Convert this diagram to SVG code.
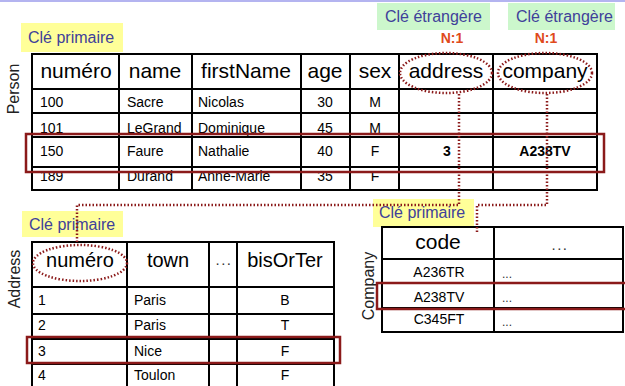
<svg xmlns="http://www.w3.org/2000/svg" width="625" height="386" viewBox="0 0 625 386">
<style>
text{font-family:"Liberation Sans",Arial,sans-serif;fill:#000}
.grid{stroke:#000;stroke-width:2;fill:none}
.hd{font-size:21px;text-anchor:middle}
.hd2{font-size:20px;text-anchor:middle}
.d{font-size:14px}
.dc{font-size:14px;text-anchor:middle}
.b{font-weight:bold}
.sd{font-size:12px;fill:#333}
.hdots{font-size:15px;text-anchor:middle;letter-spacing:1.5px;fill:#333}
.key{font-size:16px;fill:#40409a}
.yel{fill:#ffff99}
.grn{fill:#ccf7cc}
.n1{font-size:14px;font-weight:bold;fill:#e04a1c;text-anchor:middle}
.lab{font-size:16px;text-anchor:middle;fill:#222}
.hl{fill:none;stroke:#8b1a1a;stroke-width:2.5}
.dot{fill:none;stroke:#8b1a1a;stroke-width:2.5;stroke-dasharray:1.5 2}
</style>
<rect x="0" y="0" width="625" height="2" fill="#b4b4f0"/>

<g id="person">
  <rect class="yel" x="21" y="23" width="102" height="29"/>
  <text class="key" x="28" y="43">Clé primaire</text>
  <rect class="grn" x="377" y="3" width="113" height="27"/>
  <text class="key" x="385" y="22">Clé étrangère</text>
  <rect class="grn" x="508" y="3" width="107" height="27"/>
  <text class="key" x="516" y="22">Clé étrangère</text>
  <text class="n1" x="452" y="43">N:1</text>
  <text class="n1" x="546" y="43">N:1</text>
  <text class="lab" transform="translate(19,89) rotate(-90)">Person</text>
  <path class="grid" d="M32,54H597M32,89H597M32,113H597M32,137H597M32,167H597M32,190H597M32,53V191M119,53V191M192,53V191M301,53V191M350,53V191M399,53V191M493,53V191M597,53V191"/>
  <text class="hd" x="76" y="78">numéro</text>
  <text class="hd" x="155" y="78">name</text>
  <text class="hd" x="246" y="78">firstName</text>
  <text class="hd" x="325" y="78">age</text>
  <text class="hd" x="375" y="78">sex</text>
  <text class="hd" x="446" y="78">address</text>
  <text class="hd" x="545" y="78">company</text>
  <text class="d" x="40" y="107">100</text><text class="d" x="127" y="107">Sacre</text><text class="d" x="198" y="107">Nicolas</text><text class="dc" x="325" y="107">30</text><text class="dc" x="375" y="107">M</text>
  <text class="d" x="40" y="133">101</text><text class="d" x="127" y="133">LeGrand</text><text class="d" x="198" y="133">Dominique</text><text class="dc" x="325" y="133">45</text><text class="dc" x="375" y="133">M</text>
  <text class="d" x="40" y="156">150</text><text class="d" x="127" y="156">Faure</text><text class="d" x="198" y="156">Nathalie</text><text class="dc" x="325" y="156">40</text><text class="dc" x="375" y="156">F</text><text class="dc b" x="447" y="156">3</text><text class="dc b" x="545" y="156">A238TV</text>
  <text class="d" x="40" y="181">189</text><text class="d" x="127" y="181">Durand</text><text class="d" x="198" y="181">Anne-Marie</text><text class="dc" x="325" y="181">35</text><text class="dc" x="375" y="181">F</text>
  <rect class="hl" x="26" y="134" width="578" height="38"/>
  <ellipse class="dot" cx="446" cy="73" rx="46" ry="20"/>
  <ellipse class="dot" cx="545" cy="73" rx="47" ry="20"/>
</g>

<g id="address">
  <rect class="yel" x="22" y="211" width="101" height="26"/>
  <text class="key" x="29" y="230">Clé primaire</text>
  <text class="lab" transform="translate(20,279) rotate(-90)">Address</text>
  <path class="grid" d="M32,242H334M32,287H334M32,314H334M32,339H334M32,364H334M32,241V386M127,241V386M209,241V386M237,241V386M334,241V386"/>
  <text class="hd2" x="80" y="267">numéro</text>
  <text class="hd2" x="168" y="267">town</text>
  <text class="hdots" x="224" y="265">...</text>
  <text class="hd2" x="285" y="267">bisOrTer</text>
  <text class="d" x="38" y="305">1</text><text class="d" x="134" y="305">Paris</text><text class="dc" x="285" y="305">B</text>
  <text class="d" x="38" y="330">2</text><text class="d" x="134" y="330">Paris</text><text class="dc" x="285" y="330">T</text>
  <text class="d" x="38" y="356">3</text><text class="d" x="134" y="356">Nice</text><text class="dc" x="285" y="356">F</text>
  <text class="d" x="38" y="380">4</text><text class="d" x="134" y="380">Toulon</text><text class="dc" x="285" y="380">F</text>
  <rect class="hl" x="27" y="337" width="313" height="26"/>
  <ellipse class="dot" cx="80" cy="263" rx="47" ry="18"/>
</g>

<g id="company">
  <rect class="yel" x="373" y="199" width="101" height="28"/>
  <text class="key" x="379" y="218">Clé primaire</text>
  <text class="lab" transform="translate(374,286) rotate(-90)">Company</text>
  <path class="grid" d="M382,227H623M382,259H623M382,283H623M382,308H623M382,332H623M382,226V333M494,226V333M623,226V333"/>
  <text class="hd" x="438" y="249">code</text>
  <text class="hdots" x="560" y="250">...</text>
  <text class="dc" x="439" y="277">A236TR</text><text class="sd" x="502" y="278">...</text>
  <text class="dc" x="439" y="302">A238TV</text><text class="sd" x="502" y="302">...</text>
  <text class="dc" x="439" y="324">C345FT</text><text class="sd" x="502" y="326">...</text>
  <rect class="hl" x="377" y="283" width="252" height="26"/>
</g>

<g id="connectors">
  <path class="dot" d="M459,94V205H77V244"/>
  <path class="dot" d="M547,94V205H477V232"/>
</g>
</svg>
